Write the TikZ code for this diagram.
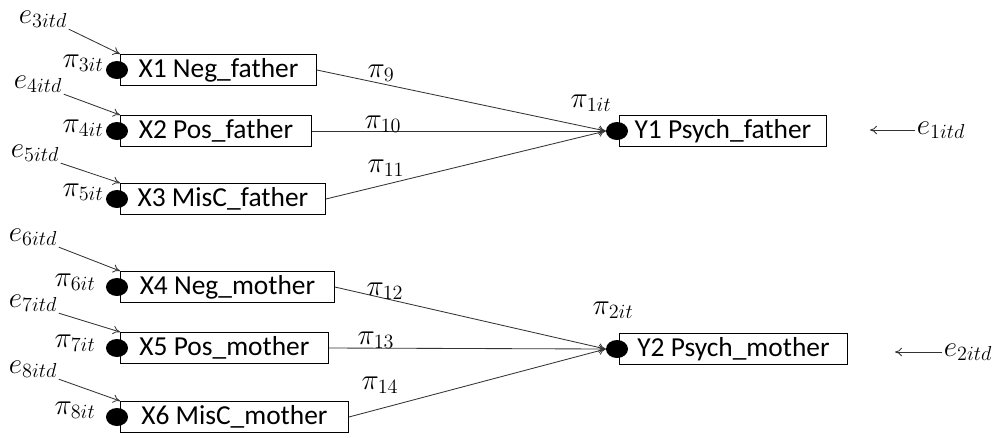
\documentclass[tikz,border=0pt]{standalone}
\usepackage{fontspec}
\setmainfont{Carlito}
\usetikzlibrary{shapes.geometric}
\usetikzlibrary{arrows.meta}

\tikzset{
  var/.style={draw, line width=0.6pt, rectangle, anchor=west, minimum height=0.78cm,
    inner sep=2pt, font=\fontsize{19.5}{22}\selectfont},
  dot/.style={fill=black, ellipse, minimum width=0.55cm, minimum height=0.45cm, inner sep=0pt},
  lab/.style={inner sep=1pt, font=\fontsize{21}{24}\selectfont},
  coef/.style={-{To[length=5pt,width=6pt]}, line width=0.6pt, black!80},
}

\begin{document}
\begin{tikzpicture}[x=0.025cm, y=-0.025cm]
  \useasboundingbox (0,0) rectangle (1000,437);

  % Draw the father boxes
  \node[var, minimum width=4.9cm]   (X1) at (120,70)  {X1 Neg\_father};
  \node[var, minimum width=4.775cm] (X2) at (120,131) {X2 Pos\_father};
  \node[var, minimum width=5.125cm] (X3) at (120,199) {X3 MisC\_father};
  \node[var, minimum width=5.175cm] (Y1) at (619,131) {Y1 Psych\_father};

  % Draw the mother boxes
  \node[var, minimum width=5.35cm]  (X4) at (120,287) {X4 Neg\_mother};
  \node[var, minimum width=5.2cm]   (X5) at (120,348) {X5 Pos\_mother};
  \node[var, minimum width=5.7cm]   (X6) at (120,417) {X6 MisC\_mother};
  \node[var, minimum width=5.7cm]   (Y2) at (619,349) {Y2 Psych\_mother};

  % Draw the dots at the intercepts
  \node[dot] (dX1) at (117,70)  {};
  \node[dot] (dX2) at (117,131) {};
  \node[dot] (dX3) at (117,199) {};
  \node[dot] (dX4) at (117,287) {};
  \node[dot] (dX5) at (117,348) {};
  \node[dot] (dX6) at (117,417) {};
  \node[dot] (dY1) at (617,131) {};
  \node[dot] (dY2) at (617,349) {};

  % Label the intercepts
  \node[lab] (p3) at (83,63)   {$\pi_{3it}$};
  \node[lab] (p4) at (83,128)  {$\pi_{4it}$};
  \node[lab] (p5) at (83,192)  {$\pi_{5it}$};
  \node[lab] (p6) at (75,282)  {$\pi_{6it}$};
  \node[lab] (p7) at (75,343)  {$\pi_{7it}$};
  \node[lab] (p8) at (75,410)  {$\pi_{8it}$};
  \node[lab] (p1) at (591,103) {$\pi_{1it}$};
  \node[lab] (p2) at (613,310) {$\pi_{2it}$};

  % Draw the error terms
  \node[lab] (e3) at (43,19)  {$e_{3itd}$};
  \node[lab] (e4) at (38,84)  {$e_{4itd}$};
  \node[lab] (e5) at (35,153) {$e_{5itd}$};
  \node[lab] (e6) at (33,237) {$e_{6itd}$};
  \node[lab] (e7) at (33,303) {$e_{7itd}$};
  \node[lab] (e8) at (33,369) {$e_{8itd}$};
  \node[lab] (e1) at (941,130) {$e_{1itd}$};
  \node[lab] (e2) at (968,352) {$e_{2itd}$};
  \coordinate (e1tip) at (870,130);
  \coordinate (e2tip) at (895,352);

  \draw[coef] (e3.south east) -- (X1.north west);
  \draw[coef] (e4.south east) -- (X2.north west);
  \draw[coef] (e5.south east) -- (X3.north west);
  \draw[coef] (e6.south east) -- (X4.north west);
  \draw[coef] (e7.south east) -- (X5.north west);
  \draw[coef] (e8.south east) -- (X6.north west);
  \draw[coef] (e1.west) -- (e1tip);
  \draw[coef] (e2.west) -- (e2tip);

  % Draw the paths to Y1
  \draw[coef] (X1.east) -- (dY1.west);
  \draw[coef] (X2.east) -- (dY1.west);
  \draw[coef] (X3.east) -- (dY1.west);
  \node[lab] (p9)  at (381,73)  {$\pi_{9}$};
  \node[lab] (p10) at (383,124) {$\pi_{10}$};
  \node[lab] (p11) at (386,168) {$\pi_{11}$};

  % Draw the paths to Y2
  \draw[coef] (X4.east) -- (dY2.west);
  \draw[coef] (X5.east) -- (dY2.west);
  \draw[coef] (X6.east) -- (dY2.west);
  \node[lab] (p12) at (385,291) {$\pi_{12}$};
  \node[lab] (p13) at (376,340) {$\pi_{13}$};
  \node[lab] (p14) at (380,385) {$\pi_{14}$};
\end{tikzpicture}
\end{document}
